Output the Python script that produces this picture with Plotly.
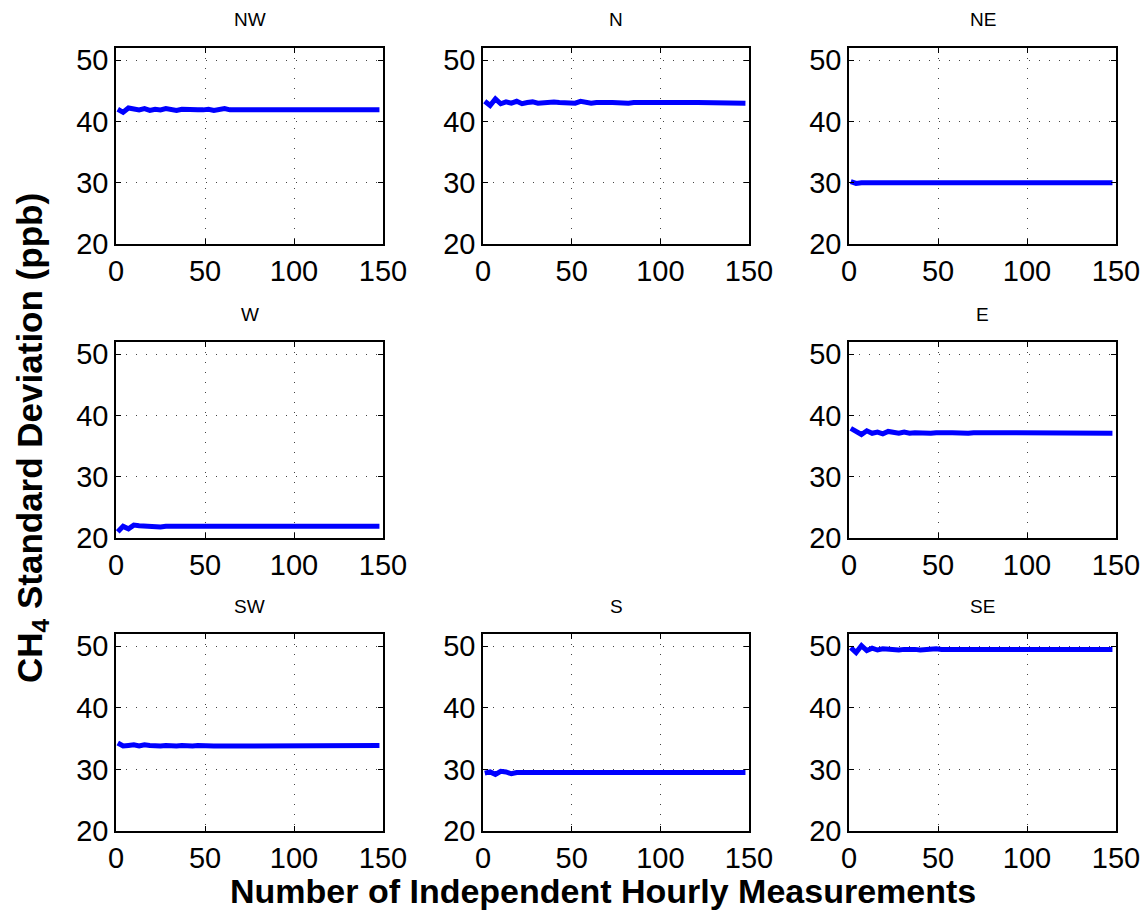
import plotly.graph_objects as go

# Number of independent hourly measurements (x values)
N_MEAS = list(range(1, 151, 3))

PANEL_NAMES = ["NW", "N", "NE", "W", "E", "SW", "S", "SE"]

NW = [42.0, 41.5, 42.2, 42.0, 41.9, 42.1, 41.8, 42.0, 41.9, 42.1,
      41.9, 41.8, 42.0, 41.9, 41.8, 41.9, 41.9, 42.0, 41.8, 41.9,
      42.1, 41.9, 41.9, 41.9, 42.0, 41.9, 41.9, 42.0, 41.9, 41.9,
      42.0, 41.9, 41.9, 41.9, 42.0, 41.9, 41.9, 41.8, 41.9, 41.9,
      41.9, 41.8, 41.9, 41.9, 42.0, 41.9, 41.9, 42.0, 41.9, 41.9]

N = [43.3, 42.6, 43.7, 42.9, 43.2, 43.0, 43.3, 42.9, 43.1, 43.2,
     43.0, 43.1, 43.0, 43.2, 43.1, 43.0, 43.1, 43.0, 43.3, 43.1,
     43.0, 43.1, 43.0, 43.1, 43.1, 43.0, 43.1, 43.0, 43.1, 43.0,
     43.1, 43.1, 43.0, 43.1, 43.1, 43.0, 43.1, 43.1, 43.0, 43.1,
     43.1, 43.1, 43.0, 43.1, 43.1, 43.1, 43.0, 43.1, 43.1, 43.0]

NE = [30.2, 29.9, 30.0, 29.9, 30.0, 30.0, 29.9, 30.0, 30.0, 29.9,
      30.0, 30.0, 30.0, 29.9, 30.0, 30.0, 30.0, 30.0, 29.9, 30.0,
      30.0, 30.0, 30.0, 30.0, 29.9, 30.0, 30.0, 30.0, 30.0, 30.0,
      30.0, 29.9, 30.0, 30.0, 30.0, 30.0, 30.0, 30.0, 29.9, 30.0,
      30.0, 30.0, 30.0, 30.0, 30.0, 29.9, 30.0, 30.0, 30.0, 30.0]

W = [21.0, 21.9, 21.5, 22.1, 22.0, 21.9, 22.0, 21.9, 21.8, 21.9,
     22.0, 21.9, 21.9, 21.8, 21.9, 21.9, 22.0, 21.9, 21.9, 21.9,
     21.9, 22.0, 21.9, 21.9, 21.8, 21.9, 21.9, 21.9, 22.0, 21.9,
     21.9, 21.9, 21.9, 21.9, 22.0, 21.9, 21.9, 21.9, 21.9, 21.9,
     21.9, 21.9, 21.9, 22.0, 21.9, 21.9, 21.8, 21.9, 21.9, 21.9]

E = [37.9, 37.4, 36.9, 37.5, 37.1, 37.3, 37.0, 37.4, 37.2, 37.1,
     37.3, 37.1, 37.2, 37.1, 37.2, 37.1, 37.2, 37.1, 37.2, 37.2,
     37.1, 37.2, 37.1, 37.2, 37.2, 37.1, 37.2, 37.1, 37.2, 37.1,
     37.2, 37.2, 37.1, 37.2, 37.1, 37.2, 37.2, 37.1, 37.2, 37.1,
     37.2, 37.1, 37.2, 37.2, 37.1, 37.2, 37.2, 37.1, 37.2, 37.1]

SW = [34.3, 33.8, 33.9, 34.0, 33.8, 34.0, 33.9, 33.8, 33.8, 33.9,
      33.8, 33.8, 33.9, 33.8, 33.8, 33.9, 33.8, 33.9, 33.8, 33.8,
      33.8, 33.9, 33.9, 34.0, 33.8, 33.8, 33.9, 33.8, 33.9, 33.8,
      33.9, 33.9, 33.8, 33.9, 33.9, 33.8, 33.9, 33.8, 33.9, 33.9,
      33.8, 33.9, 33.8, 33.9, 33.9, 33.8, 33.9, 33.9, 33.8, 33.9]

S = [29.4, 29.6, 29.2, 29.7, 29.6, 29.3, 29.5, 29.5, 29.4, 29.5,
     29.5, 29.4, 29.5, 29.5, 29.4, 29.5, 29.5, 29.5, 29.4, 29.5,
     29.5, 29.5, 29.4, 29.5, 29.5, 29.5, 29.4, 29.5, 29.5, 29.5,
     29.5, 29.4, 29.5, 29.5, 29.5, 29.5, 29.4, 29.5, 29.5, 29.5,
     29.5, 29.5, 29.4, 29.5, 29.5, 29.5, 29.5, 29.5, 29.4, 29.5]

SE = [49.8, 49.0, 50.1, 49.3, 49.7, 49.4, 49.6, 49.5, 49.6, 49.4,
      49.5, 49.6, 49.5, 49.4, 49.5, 49.5, 49.6, 49.5, 49.5, 49.4,
      49.5, 49.5, 49.6, 49.5, 49.5, 49.4, 49.5, 49.5, 49.6, 49.5,
      49.5, 49.5, 49.4, 49.5, 49.5, 49.5, 49.6, 49.5, 49.5, 49.4,
      49.5, 49.5, 49.5, 49.5, 49.6, 49.5, 49.5, 49.4, 49.5, 49.5]

SERIES = [NW, N, NE, W, E, SW, S, SE]

X_TICKS = [0, 50, 100, 150]
Y_TICKS = [20, 30, 40, 50]

W_PX, H_PX = 1148, 911
# panel positions (pixels)
COLS = [(116, 383), (483, 749), (849, 1116)]
ROWS = [(48, 244), (342, 538), (634, 831)]
CELLS = [(0, 0), (0, 1), (0, 2), (1, 0), (1, 2), (2, 0), (2, 1), (2, 2)]

fig = go.Figure()
layout = dict(
    width=W_PX, height=H_PX,
    margin=dict(l=0, r=0, t=0, b=0, autoexpand=False),
    paper_bgcolor="white", plot_bgcolor="white",
    showlegend=False,
    font=dict(family="Liberation Sans, Arial, sans-serif", color="black"),
    annotations=[],
)

for i, (name, ys) in enumerate(zip(PANEL_NAMES, SERIES)):
    r, c = CELLS[i]
    k = i + 1
    xs = "" if k == 1 else str(k)
    x0, x1 = COLS[c]
    y0, y1 = ROWS[r]
    xdom = [x0 / W_PX, x1 / W_PX]
    ydom = [1 - y1 / H_PX, 1 - y0 / H_PX]
    fig.add_trace(go.Scatter(
        x=N_MEAS, y=ys, mode="lines",
        line=dict(color="#0000ff", width=5),
        xaxis="x" + xs, yaxis="y" + xs, hoverinfo="skip",
    ))
    common = dict(
        showline=True, linecolor="black", linewidth=1.5, mirror="allticks",
        ticks="inside", ticklen=5, tickcolor="black", tickwidth=1,
        showgrid=True, gridcolor="#444444", griddash="1px,9px", gridwidth=1,
        zeroline=False, automargin=False,
        tickfont=dict(size=29, color="black"),
    )
    layout["xaxis" + xs] = dict(
        domain=xdom, range=[0, 150], tickvals=X_TICKS,
        anchor="y" + xs, **common)
    layout["yaxis" + xs] = dict(
        domain=ydom, range=[20, 52], tickvals=Y_TICKS,
        anchor="x" + xs, **common)
    layout["annotations"].append(dict(
        text=name, x=(x0 + x1) / 2 / W_PX, y=1 - (y0 - 28) / H_PX,
        xref="paper", yref="paper", showarrow=False,
        xanchor="center", yanchor="middle",
        font=dict(size=19, color="black"),
    ))

layout["annotations"].append(dict(
    text="<b>CH<sub>4</sub> Standard Deviation (ppb)</b>",
    x=32 / W_PX, y=1 - 438 / H_PX, xref="paper", yref="paper",
    showarrow=False, textangle=-90, xanchor="center", yanchor="middle",
    font=dict(size=35, color="black"),
))
layout["annotations"].append(dict(
    text="<b>Number of Independent Hourly Measurements</b>",
    x=603 / W_PX, y=1 - 891 / H_PX, xref="paper", yref="paper",
    showarrow=False, xanchor="center", yanchor="middle",
    font=dict(size=34, color="black"),
))

fig.update_layout(**layout)
fig.write_html(
    "out.html",
    config={"displayModeBar": False},
    post_script="document.body.style.margin='0px';document.body.style.overflow='hidden';",
)
